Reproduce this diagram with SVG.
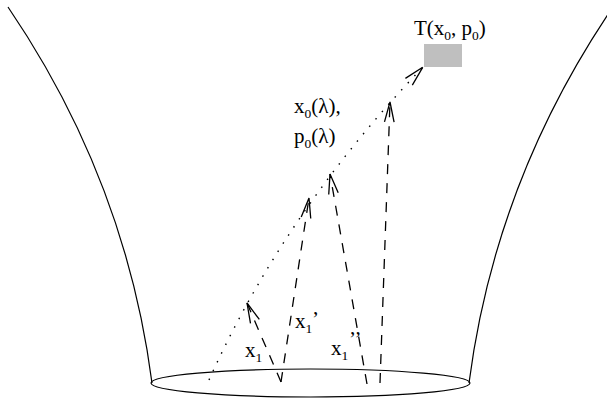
<svg xmlns="http://www.w3.org/2000/svg" width="607" height="399" viewBox="0 0 607 399">
<style>
.line{fill:none;stroke:#000;stroke-width:1.2}
.dash{fill:none;stroke:#000;stroke-width:1.3;stroke-dasharray:10 9}
.dot{fill:none;stroke:#000;stroke-width:1.4;stroke-dasharray:1.5 8.2}
.head{fill:none;stroke:#000;stroke-width:1.3;stroke-dasharray:none}
text{font-family:"Liberation Serif","Times New Roman",serif;font-size:21px;fill:#000}
.sub{font-size:13.5px}
</style>
<defs>
<marker id="arr" markerUnits="userSpaceOnUse" markerWidth="40" markerHeight="40" refX="0" refY="0" orient="auto" overflow="visible">
<path class="head" d="M-20,-4.8 L0,0 L-20,4.8"/>
</marker>
</defs>
<g id="cone">
<path class="line" d="M8,7 C93,132 135.75,258 152,383"/>
<path class="line" d="M613,7 C528,132 485.25,258 469,383"/>
<ellipse class="line" cx="310.5" cy="383" rx="159.5" ry="14"/>
</g>
<g id="target">
<rect x="424" y="44" width="38" height="23" fill="#bfbfbf"/>
<text x="414" y="35">T(x<tspan class="sub" dy="5">0</tspan><tspan dy="-5">, p</tspan><tspan class="sub" dy="5">0</tspan><tspan dy="-5">)</tspan></text>
</g>
<g id="labels">
<text x="294" y="113">x<tspan class="sub" dy="5">0</tspan><tspan dy="-5">(λ),</tspan></text>
<text x="294" y="143">p<tspan class="sub" dy="5">0</tspan><tspan dy="-5">(λ)</tspan></text>
<text x="245" y="357">x<tspan class="sub" dy="5">1</tspan></text>
<text x="295" y="328">x<tspan class="sub" dy="5">1</tspan></text>
<text x="312" y="326">’</text>
<text x="331" y="355">x<tspan class="sub" dy="5">1</tspan></text>
<text x="349" y="346">’’</text>
</g>
<g id="connectors">
<path class="dot" d="M209,380 Q285,211 422.7,67.3" marker-end="url(#arr)"/>
<line class="dash" x1="281" y1="382" x2="247" y2="303" marker-end="url(#arr)"/>
<line class="dash" x1="281" y1="382" x2="309" y2="198" marker-end="url(#arr)"/>
<line class="dash" x1="367" y1="384" x2="330" y2="174" marker-end="url(#arr)"/>
<line class="dash" x1="380" y1="383" x2="390" y2="102" marker-end="url(#arr)"/>
</g>
</svg>
